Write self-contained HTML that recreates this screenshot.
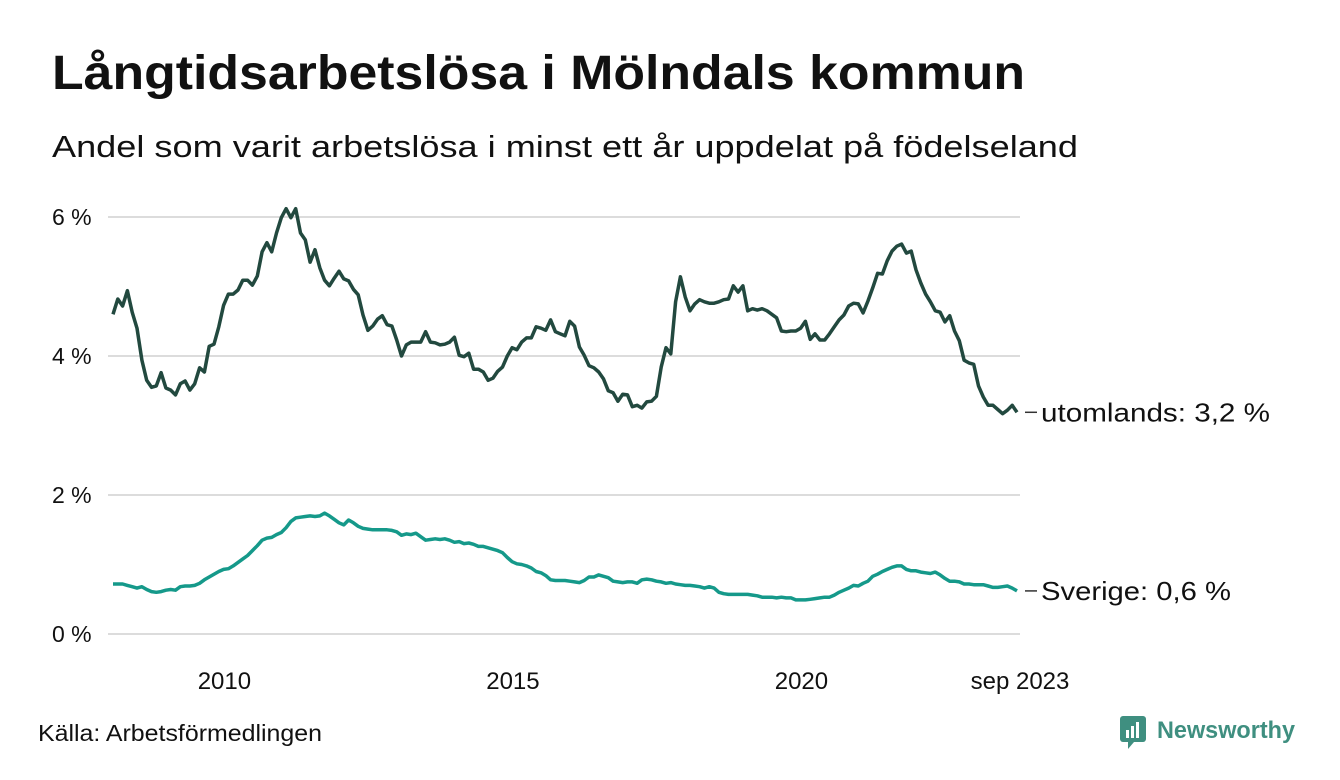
<!DOCTYPE html>
<html><head><meta charset="utf-8">
<style>
body{margin:0;background:#fff;font-family:"Liberation Sans","DejaVu Sans",sans-serif;}
#wrap{position:relative;width:1340px;height:780px;overflow:hidden;background:#fff}
</style></head>
<body>
<div id="wrap">
<svg id="chart" width="1340" height="780">
<text x="52" y="89" font-size="48" font-weight="bold" fill="#111" textLength="973" lengthAdjust="spacingAndGlyphs">Långtidsarbetslösa i Mölndals kommun</text>
<text x="52" y="157" font-size="31" fill="#111" textLength="1026" lengthAdjust="spacingAndGlyphs">Andel som varit arbetslösa i minst ett år uppdelat på födelseland</text>
<g id="grid"></g><g id="ylab"></g><g id="xlab"></g><g id="lines"></g><g id="endlab"></g>
<text x="38" y="741" font-size="23" fill="#111" textLength="284" lengthAdjust="spacingAndGlyphs">Källa: Arbetsförmedlingen</text>
<g>
<rect x="1120" y="716" width="26" height="26" rx="3" fill="#3f8f80"/>
<rect x="1126" y="730" width="3" height="8" fill="#fff"/><rect x="1131" y="726" width="3" height="12" fill="#fff"/><rect x="1136" y="722" width="3" height="16" fill="#fff"/>
<polygon points="1128,742 1134,742 1128,749" fill="#3f8f80"/>
<text x="1157" y="738" font-size="24" font-weight="bold" fill="#3f8f80" textLength="138" lengthAdjust="spacingAndGlyphs">Newsworthy</text>
</g>
</svg>
</div>
<script>
const startYear = 2008;
const yTicks = [0, 2, 4, 6];
const yTickLabels = ["0 %", "2 %", "4 %", "6 %"];
const xTicks = [2010, 2015, 2020];
const xTickLabels = ["2010", "2015", "2020"];
const sverige = [0.72,0.72,0.72,0.70,0.68,0.66,0.68,0.64,0.61,0.60,0.61,0.63,
0.64,0.63,0.68,0.69,0.69,0.70,0.73,0.78,0.82,0.86,0.90,0.93,
0.94,0.98,1.03,1.08,1.13,1.20,1.27,1.35,1.38,1.39,1.43,1.46,
1.53,1.62,1.67,1.68,1.69,1.70,1.69,1.70,1.74,1.70,1.65,1.60,
1.57,1.64,1.60,1.55,1.52,1.51,1.50,1.50,1.50,1.50,1.49,1.47,
1.42,1.44,1.43,1.45,1.40,1.35,1.36,1.37,1.36,1.37,1.35,1.32,
1.33,1.30,1.31,1.29,1.26,1.26,1.24,1.22,1.20,1.17,1.10,1.04,
1.01,1.00,0.98,0.95,0.90,0.88,0.84,0.78,0.77,0.77,0.77,0.76,
0.75,0.74,0.77,0.82,0.82,0.85,0.83,0.81,0.76,0.75,0.74,0.75,
0.75,0.73,0.78,0.79,0.78,0.76,0.75,0.73,0.74,0.72,0.71,0.70,
0.70,0.69,0.68,0.66,0.68,0.66,0.60,0.58,0.57,0.57,0.57,0.57,
0.57,0.56,0.55,0.53,0.53,0.53,0.52,0.53,0.52,0.52,0.49,0.49,
0.49,0.50,0.51,0.52,0.53,0.53,0.56,0.60,0.63,0.66,0.70,0.69,
0.73,0.76,0.83,0.86,0.90,0.93,0.96,0.98,0.98,0.93,0.91,0.91,
0.89,0.88,0.87,0.89,0.85,0.80,0.76,0.76,0.75,0.72,0.72,0.71,
0.71,0.71,0.69,0.67,0.67,0.68,0.69,0.66,0.62];
const utomlands = [4.60,4.82,4.72,4.94,4.63,4.40,3.94,3.65,3.55,3.57,
3.76,3.54,3.51,3.44,3.60,3.64,3.51,3.60,3.83,3.77,
4.14,4.17,4.42,4.73,4.89,4.89,4.95,5.09,5.09,5.02,
5.15,5.50,5.63,5.50,5.77,5.99,6.12,5.99,6.12,5.77,
5.67,5.35,5.53,5.27,5.09,5.01,5.12,5.22,5.11,5.08,4.96,
4.88,4.59,4.37,4.43,4.53,4.58,4.45,4.43,4.23,4.00,
4.16,4.20,4.20,4.20,4.35,4.20,4.19,4.16,4.17,4.20,
4.27,4.01,3.99,4.04,3.81,3.81,3.77,3.65,3.68,3.78,
3.84,4.00,4.12,4.09,4.20,4.26,4.26,4.42,4.40,4.37,
4.52,4.35,4.32,4.29,4.50,4.43,4.13,4.01,3.86,3.83,3.77,
3.67,3.50,3.47,3.35,3.45,3.44,3.27,3.29,3.25,3.34,
3.35,3.42,3.84,4.12,4.03,4.78,5.14,4.85,4.65,4.75,
4.81,4.78,4.76,4.76,4.78,4.81,4.82,5.01,4.92,5.01,
4.65,4.68,4.66,4.68,4.65,4.60,4.55,4.36,4.35,4.36,4.36,
4.40,4.50,4.24,4.32,4.23,4.23,4.32,4.42,4.52,4.59,
4.72,4.76,4.75,4.62,4.79,4.98,5.19,5.18,5.37,5.51,
5.58,5.61,5.48,5.51,5.24,5.05,4.89,4.78,4.65,4.63,
4.49,4.58,4.36,4.22,3.94,3.90,3.88,3.57,3.41,3.29,
3.29,3.23,3.17,3.22,3.29,3.19];
const seriesNames = ["utomlands: 3,2 %", "Sverige: 0,6 %"];

const NS = "http://www.w3.org/2000/svg";
const N = sverige.length;
const X0 = 113, X1 = 1017;
function x(monthIdx){ return X0 + monthIdx * (X1 - X0) / (N - 1); }
function xYear(yr){ return x((yr - startYear) * 12); }
function y(v){ return 634 - v * 69.5; }
function mk(tag, attrs, parent){ const e=document.createElementNS(NS,tag); for(const k in attrs) e.setAttribute(k,attrs[k]); parent.appendChild(e); return e; }

const grid=document.getElementById('grid'), ylab=document.getElementById('ylab'), xlab=document.getElementById('xlab');
yTicks.forEach((t,i)=>{
  const l=mk('line',{x1:108,x2:1020,y1:y(t),y2:y(t),stroke:'#dcdcdc','stroke-width':2},grid);
  
  
  const tx=mk('text',{x:52,y:y(t)+8,'font-size':23,fill:'#111'},ylab);
  tx.textContent=yTickLabels[i];
  
  
});
xTicks.forEach((t,i)=>{
  const tx=mk('text',{x:xYear(t)-4,y:689,'font-size':24,fill:'#111','text-anchor':'middle'},xlab);
  tx.textContent=xTickLabels[i];
  
  
});
const lastTx=mk('text',{x:x(N-1)+3,y:689,'font-size':24,fill:'#111','text-anchor':'middle'},xlab);
lastTx.textContent="sep 2023";



const lines=document.getElementById('lines'), endlab=document.getElementById('endlab');
function drawSeries(vals, color, name, label, w){
  const off = N - vals.length;
  const d = vals.map((v,i)=>(i?'L':'M')+x(i+off).toFixed(1)+','+y(v).toFixed(1)).join('');
  const p=mk('path',{d:d,fill:'none',stroke:color,'stroke-width':3.5,'stroke-linejoin':'round'},lines);
  
  
  const ly=y(vals[vals.length-1]);
  mk('line',{x1:1025,x2:1037,y1:ly,y2:ly,stroke:'#333','stroke-width':1.5},endlab);
  const t=mk('text',{x:1041,y:ly+9,'font-size':26,fill:'#111',textLength:w,lengthAdjust:'spacingAndGlyphs'},endlab);
  t.textContent=label;
  
  
}
drawSeries(utomlands,'#22493f','line-utomlands',seriesNames[0],229);
drawSeries(sverige,'#15998a','line-sverige',seriesNames[1],190);
</script>
</body></html>
